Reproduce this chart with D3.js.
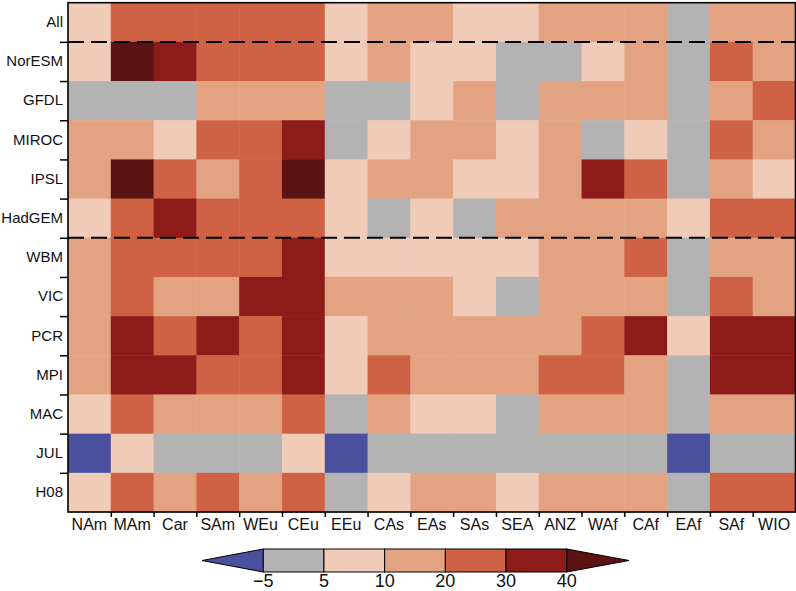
<!DOCTYPE html>
<html>
<head>
<meta charset="utf-8">
<script src="https://cdn.jsdelivr.net/npm/d3@7"></script>
<style>
  body { margin: 0; background: #fff; }
  text { font-family: "Liberation Sans", Arial, sans-serif; fill: #111; }
</style>
</head>
<body>
<div id="chart"></div>
<script>
const regions = ["NAm", "MAm", "Car", "SAm", "WEu", "CEu", "EEu", "CAs", "EAs", "SAs", "SEA", "ANZ", "WAf", "CAf", "EAf", "SAf", "WIO"];
const models = ["All", "NorESM", "GFDL", "MIROC", "IPSL", "HadGEM", "WBM", "VIC", "PCR", "MPI", "MAC", "JUL", "H08"];

// values (bin estimates)
const vAll    = [7, 25, 25, 25, 25, 25, 7, 15, 15, 7, 7, 15, 15, 15, 0, 15, 15];
const vNorESM = [7, 45, 35, 25, 25, 25, 7, 15, 7, 7, 0, 0, 7, 15, 0, 25, 15];
const vGFDL   = [0, 0, 0, 15, 15, 15, 0, 0, 7, 15, 0, 15, 15, 15, 0, 15, 25];
const vMIROC  = [15, 15, 7, 25, 25, 35, 0, 7, 15, 15, 7, 15, 0, 7, 0, 25, 15];
const vIPSL   = [15, 45, 25, 15, 25, 45, 7, 15, 15, 7, 7, 15, 35, 25, 0, 15, 7];
const vHadGEM = [7, 25, 35, 25, 25, 25, 7, 0, 7, 0, 15, 15, 15, 15, 7, 25, 25];
const vWBM    = [15, 25, 25, 25, 25, 35, 7, 7, 7, 7, 7, 15, 15, 25, 0, 15, 15];
const vVIC    = [15, 25, 15, 15, 35, 35, 15, 15, 15, 7, 0, 15, 15, 15, 0, 25, 15];
const vPCR    = [15, 35, 25, 35, 25, 35, 7, 15, 15, 15, 15, 15, 25, 35, 7, 35, 35];
const vMPI    = [15, 35, 35, 25, 25, 35, 7, 25, 15, 15, 15, 25, 25, 15, 0, 35, 35];
const vMAC    = [7, 25, 15, 15, 15, 25, 0, 15, 7, 7, 0, 15, 15, 15, 0, 15, 15];
const vJUL    = [-8, 7, 0, 0, 0, 7, -8, 0, 0, 0, 0, 0, 0, 0, -8, 0, 0];
const vH08    = [7, 25, 15, 25, 15, 25, 0, 7, 15, 15, 7, 15, 15, 15, 0, 25, 25];
const values = [vAll, vNorESM, vGFDL, vMIROC, vIPSL, vHadGEM, vWBM, vVIC, vPCR, vMPI, vMAC, vJUL, vH08];

const levels = [-5, 5, 10, 20, 30, 40];
const levelLabels = ["\u22125", "5", "10", "20", "30", "40"];
const colors = ["#4a4f9e", "#b3b3b3", "#efcbb8", "#e3a383", "#cf6144", "#8c1b19", "#5c1313"];

const W = 796, H = 591;
const plot = { left: 68, top: 2.7, right: 795.5, bottom: 512 };

const svg = d3.select("#chart").append("svg")
    .attr("width", W)
    .attr("height", H);

const color = d3.scaleThreshold().domain(levels).range(colors);

const x = d3.scaleBand().domain(regions).range([plot.left, plot.right]);
const y = d3.scaleBand().domain(models).range([plot.top, plot.bottom]);

const cells = [];
values.forEach((row, i) => row.forEach((v, j) => cells.push({ m: models[i], r: regions[j], v })));

svg.append("g").selectAll("rect")
    .data(cells).enter()
    .append("rect")
    .attr("x", d => x(d.r))
    .attr("y", d => y(d.m))
    .attr("width", x.bandwidth() + 0.5)
    .attr("height", y.bandwidth() + 0.5)
    .attr("fill", d => color(d.v));

// dashed separators: after "All" and after the GCMs
["NorESM", "WBM"].forEach(m => {
    svg.append("line")
        .attr("x1", plot.left).attr("x2", plot.right)
        .attr("y1", y(m)).attr("y2", y(m))
        .attr("stroke", "#000")
        .attr("stroke-width", 2)
        .attr("stroke-dasharray", "16,7");
});

// boundary ticks
const xi = d3.scaleLinear().domain([0, regions.length]).range([plot.left, plot.right]);
const yi = d3.scaleLinear().domain([0, models.length]).range([plot.top, plot.bottom]);

svg.append("g")
    .attr("transform", `translate(0,${plot.bottom})`)
    .call(d3.axisBottom(xi).tickValues(d3.range(1, regions.length)).tickFormat("").tickSize(5).tickSizeOuter(0))
    .call(g => g.select(".domain").remove())
    .selectAll("line").attr("stroke", "#000").attr("stroke-width", 1.5);

svg.append("g")
    .attr("transform", `translate(${plot.left},0)`)
    .call(d3.axisLeft(yi).tickValues(d3.range(1, models.length)).tickFormat("").tickSize(8).tickSizeOuter(0))
    .call(g => g.select(".domain").remove())
    .selectAll("line").attr("stroke", "#000").attr("stroke-width", 1.5);

// labels
svg.append("g")
    .attr("transform", `translate(0,${plot.bottom})`)
    .call(d3.axisBottom(x).tickSize(0).tickPadding(7))
    .call(g => g.select(".domain").remove())
    .selectAll("text").style("font-size", "16px").attr("fill", "#111");

svg.append("g")
    .attr("transform", `translate(${plot.left},0)`)
    .call(d3.axisLeft(y).tickSize(0).tickPadding(5))
    .call(g => g.select(".domain").remove())
    .selectAll("text").style("font-size", "15px").attr("fill", "#111");

// frame
svg.append("rect")
    .attr("x", plot.left).attr("y", plot.top)
    .attr("width", plot.right - plot.left)
    .attr("height", plot.bottom - plot.top)
    .attr("fill", "none")
    .attr("stroke", "#000")
    .attr("stroke-width", 1.6);

// colour bar
const cb = { left: 263.3, right: 566.7, top: 549, bottom: 572, tipL: 202, tipR: 629 };
const cx = d3.scalePoint().domain(levelLabels).range([cb.left, cb.right]);
const midY = (cb.top + cb.bottom) / 2;

const bar = svg.append("g");
bar.append("path")
    .attr("d", `M${cb.left},${cb.top}L${cb.tipL},${midY}L${cb.left},${cb.bottom}Z`)
    .attr("fill", colors[0]).attr("stroke", "#000").attr("stroke-width", 1);
bar.append("path")
    .attr("d", `M${cb.right},${cb.top}L${cb.tipR},${midY}L${cb.right},${cb.bottom}Z`)
    .attr("fill", colors[colors.length - 1]).attr("stroke", "#000").attr("stroke-width", 1);

bar.selectAll("rect")
    .data(levelLabels.slice(0, -1)).enter()
    .append("rect")
    .attr("x", d => cx(d))
    .attr("y", cb.top)
    .attr("width", cx.step())
    .attr("height", cb.bottom - cb.top)
    .attr("fill", (d, i) => colors[i + 1])
    .attr("stroke", "#000")
    .attr("stroke-width", 1);

bar.selectAll("text")
    .data(levelLabels).enter()
    .append("text")
    .attr("x", d => cx(d))
    .attr("y", 587)
    .attr("text-anchor", "middle")
    .style("font-size", "18px")
    .text(d => d);
</script>
</body>
</html>
